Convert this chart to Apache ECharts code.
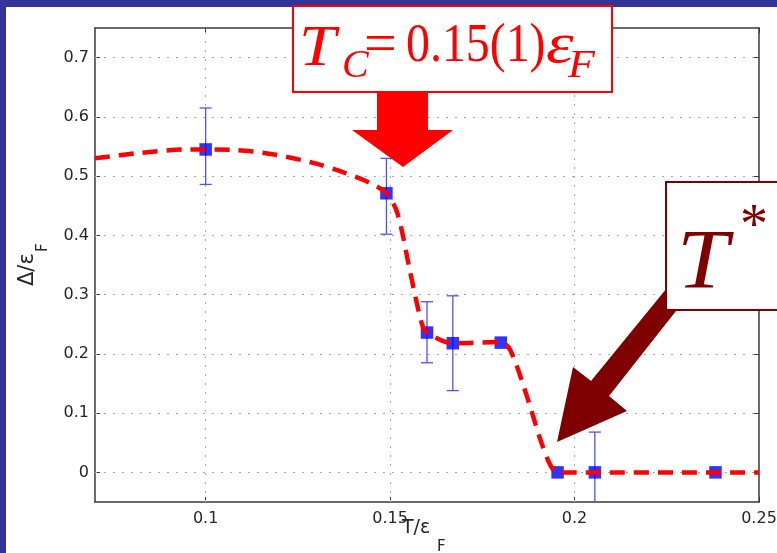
<!DOCTYPE html>
<html>
<head>
<meta charset="utf-8">
<script src="https://cdn.jsdelivr.net/npm/echarts@6/dist/echarts.min.js"></script>
<style>
  html, body { margin: 0; padding: 0; background: #333399; overflow: hidden; }
  #chart { width: 777px; height: 553px; }
</style>
</head>
<body>
<div id="chart"></div>
<script>
// measured points (T/eF, gap/eF) and their error bars
var tVals    = [0.100, 0.149, 0.160, 0.167, 0.180, 0.1954, 0.2055, 0.2382];
var gapVals  = [0.545, 0.471, 0.236, 0.218, 0.219, 0, 0, 0];
var errLow   = [0.486, 0.402, 0.185, 0.138, null, null, -0.068, null];
var errHigh  = [0.615, 0.530, 0.288, 0.298, null, null, 0.068, null];

// dashed guide curve
var fitX = [0.070, 0.082, 0.095, 0.108, 0.119, 0.130, 0.137, 0.144, 0.149, 0.152, 0.1555, 0.1586, 0.160,
            0.167, 0.180, 0.1826, 0.1871, 0.1907, 0.1934, 0.1954, 0.250];
var fitY = [0.530, 0.539, 0.545, 0.544, 0.536, 0.521, 0.507, 0.490, 0.471, 0.437, 0.336, 0.251, 0.236,
            0.218, 0.220, 0.206, 0.128, 0.056, 0.0125, 0, 0];

var xTicks = [0.1, 0.15, 0.2, 0.25];
var yTicks = [0, 0.1, 0.2, 0.3, 0.4, 0.5, 0.6, 0.7];

var chart = echarts.init(document.getElementById('chart'));

var labelFont = { color: '#262626', fontSize: 16, fontFamily: 'DejaVu Sans' };
var axisLineStyle = { color: '#3a3a3a', width: 1.5 };

function xAx(pos, showLabel) {
  return {
    type: 'value', position: pos, min: 0.07, max: 0.25,
    axisLine: { show: true, onZero: false, lineStyle: axisLineStyle },
    axisTick: { show: true, inside: true, length: 5, customValues: xTicks, lineStyle: { color: '#3a3a3a', width: 1 } },
    axisLabel: Object.assign({ show: showLabel, margin: 9, customValues: xTicks }, labelFont),
    splitLine: { show: false }
  };
}
function yAx(pos, showLabel) {
  return {
    type: 'value', position: pos, min: -0.05, max: 0.75,
    axisLine: { show: true, onZero: false, lineStyle: axisLineStyle },
    axisTick: { show: true, inside: true, length: 5, customValues: yTicks, lineStyle: { color: '#3a3a3a', width: 1 } },
    axisLabel: Object.assign({ show: showLabel, margin: 6, customValues: yTicks }, labelFont),
    splitLine: { show: false }
  };
}

var fitData = fitX.map(function (x, i) { return [x, fitY[i]]; });
var pointData = tVals.map(function (x, i) { return [x, gapVals[i]]; });
var errData = [];
for (var i = 0; i < tVals.length; i++) {
  if (errLow[i] !== null) errData.push([tVals[i], errLow[i], errHigh[i]]);
}

var gridLineStyle = { color: '#a8a8a8', width: 1, type: [2, 7] };
var gridMarks = xTicks.slice(0, 3).map(function (v) { return { xAxis: v }; })
  .concat(yTicks.map(function (v) { return { yAxis: v }; }));

var errColor = '#5050ff';
var serif = 'Liberation Serif';

var option = {
  backgroundColor: '#ffffff',
  animation: false,
  grid: { left: 95, right: 18, top: 28, bottom: 51, containLabel: false, outerBoundsMode: 'none' },
  xAxis: [xAx('bottom', true), xAx('top', false)],
  yAxis: [yAx('left', true), yAx('right', false)],
  series: [
    {
      // dotted grid
      type: 'line', data: [], z: 1, silent: true,
      markLine: {
        silent: true, symbol: 'none', z: 1, animation: false,
        label: { show: false },
        lineStyle: gridLineStyle,
        data: gridMarks
      }
    },
    {
      type: 'custom', z: 10, silent: true,
      data: errData,
      renderItem: function (params, api) {
        var x = api.value(0), lo = api.value(1), hi = api.value(2);
        var top = api.coord([x, hi]);
        var bot = api.coord([x, lo]);
        var cs = params.coordSys;
        var yMax = cs.y + cs.height;
        var by = Math.min(bot[1], yMax);
        var st = { stroke: errColor, lineWidth: 1.3 };
        var kids = [
          { type: 'line', shape: { x1: top[0], y1: top[1], x2: top[0], y2: by }, style: st },
          { type: 'line', shape: { x1: top[0] - 6, y1: top[1], x2: top[0] + 6, y2: top[1] }, style: st }
        ];
        if (bot[1] <= yMax) {
          kids.push({ type: 'line', shape: { x1: bot[0] - 6, y1: bot[1], x2: bot[0] + 6, y2: bot[1] }, style: st });
        }
        return { type: 'group', children: kids };
      }
    },
    {
      type: 'scatter', z: 11, silent: true,
      data: pointData,
      symbol: 'rect', symbolSize: 12.5,
      itemStyle: { color: '#0000ff', borderWidth: 0 }
    },
    {
      type: 'line', z: 12, silent: true,
      data: fitData,
      showSymbol: false, symbol: 'none',
      smooth: 0.3,
      lineStyle: { color: '#ff0000', width: 4.5, type: [15, 9] }
    }
  ],
  graphic: {
    elements: [
      // blue slide frame
      { type: 'rect', z: 90, silent: true, shape: { x: 0, y: 0, width: 777, height: 7 }, style: { fill: '#333399' } },
      { type: 'rect', z: 90, silent: true, shape: { x: 0, y: 0, width: 6, height: 553 }, style: { fill: '#333399' } },

      // axis names
      { type: 'text', z: 95, x: 402, y: 528, style: { text: 'T/ε', fontSize: 19, fontFamily: 'DejaVu Sans', fill: '#262626', align: 'left', verticalAlign: 'middle' } },
      { type: 'text', z: 95, x: 437, y: 547, style: { text: 'F', fontSize: 15, fontFamily: 'DejaVu Sans', fill: '#262626', align: 'left', verticalAlign: 'middle' } },
      {
        type: 'group', z: 95, x: 35, y: 286, rotation: Math.PI / 2,
        children: [
          { type: 'text', x: 0, y: -7, style: { text: 'Δ/ε', fontSize: 21, fontFamily: 'DejaVu Sans', fill: '#262626', align: 'left', verticalAlign: 'middle' } },
          { type: 'text', x: 34, y: 8, style: { text: 'F', fontSize: 15, fontFamily: 'DejaVu Sans', fill: '#262626', align: 'left', verticalAlign: 'middle' } }
        ]
      },

      // Tc annotation
      { type: 'polygon', z: 100, silent: true,
        shape: { points: [[377, 92], [428, 92], [428, 130], [453, 130], [403, 167], [352, 130], [377, 130]] },
        style: { fill: '#ff0000' } },
      { type: 'rect', z: 101, silent: true, shape: { x: 293, y: 6, width: 319, height: 86 },
        style: { fill: '#ffffff', stroke: '#ff0000', lineWidth: 2 } },
      { type: 'text', z: 102, x: 299, y: 50, scaleX: 1.18, style: { text: 'T', fontSize: 56, fontStyle: 'italic', fontFamily: serif, fill: '#ff0000', align: 'left', verticalAlign: 'middle' } },
      { type: 'text', z: 102, x: 342, y: 66, style: { text: 'C', fontSize: 40, fontStyle: 'italic', fontFamily: serif, fill: '#ff0000', align: 'left', verticalAlign: 'middle' } },
      { type: 'text', z: 102, x: 364, y: 47, style: { text: '=', fontSize: 58, fontFamily: serif, fill: '#ff0000', align: 'left', verticalAlign: 'middle' } },
      { type: 'text', z: 102, x: 406, y: 47, scaleX: 0.87, style: { text: '0.15(1)', fontSize: 55, fontFamily: serif, fill: '#ff0000', align: 'left', verticalAlign: 'middle' } },
      { type: 'text', z: 102, x: 546, y: 47, scaleX: 1.25, style: { text: 'ε', fontSize: 56, fontStyle: 'italic', fontFamily: serif, fill: '#ff0000', align: 'left', verticalAlign: 'middle' } },
      { type: 'text', z: 102, x: 568, y: 66, scaleX: 1.1, style: { text: 'F', fontSize: 40, fontStyle: 'italic', fontFamily: serif, fill: '#ff0000', align: 'left', verticalAlign: 'middle' } },

      // T* annotation
      { type: 'polygon', z: 100, silent: true,
        shape: { points: [[557, 442], [573, 367], [591, 381], [680, 272], [702, 278], [609, 396], [627, 411]] },
        style: { fill: '#7f0000' } },
      { type: 'rect', z: 101, silent: true, shape: { x: 666, y: 182, width: 130, height: 128 },
        style: { fill: '#ffffff', stroke: '#7f0000', lineWidth: 2 } },
      { type: 'text', z: 102, x: 677, y: 266, scaleX: 1.1, style: { text: 'T', fontSize: 84, fontStyle: 'italic', fontFamily: serif, fill: '#7f0000', align: 'left', verticalAlign: 'middle' } },
      { type: 'text', z: 102, x: 740, y: 228, style: { text: '*', fontSize: 56, fontFamily: serif, fill: '#7f0000', align: 'left', verticalAlign: 'middle' } }
    ]
  }
};

chart.setOption(option);
</script>
</body>
</html>
